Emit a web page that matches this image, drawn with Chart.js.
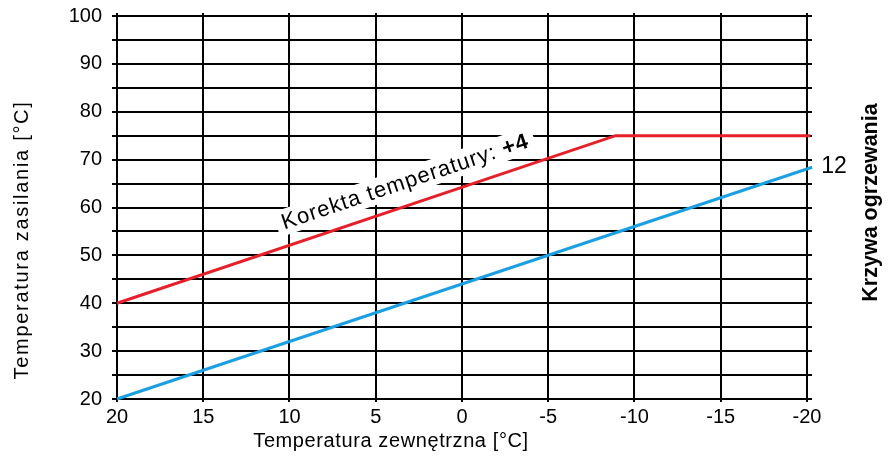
<!DOCTYPE html>
<html>
<head>
<meta charset="utf-8">
<script src="https://cdn.jsdelivr.net/npm/chart.js@4/dist/chart.umd.min.js"></script>
<style>
  html, body { margin: 0; padding: 0; background: #fff; }
  #wrap { width: 894px; height: 457px; }
</style>
</head>
<body>
<div id="wrap"><canvas id="heatChart" width="894" height="457"></canvas></div>
<script>
// --- DATA ---
const xTicks = [20, 15, 10, 5, 0, -5, -10, -15, -20];
const yTicks = [20, 30, 40, 50, 60, 70, 80, 90, 100];

// heating curve 12 (blue)
const curveOutdoor = [20, -20.3];
const curveSupply = [20, 68.4];

// curve 12 with correction +4 (red), capped at 75
const correctedOutdoor = [20, -8.9, -20.2];
const correctedSupply = [40, 75, 75];

const curveLabel = '12';
const xTitle = 'Temperatura zewnętrzna [°C]';
const yTitle = 'Temperatura zasilania [°C]';
const rightTitle = 'Krzywa ogrzewania';
const noteText = 'Korekta temperatury: ';
const noteValue = '+4';

const FONT = '"Liberation Sans", Arial, sans-serif';

function toPoints(xs, ys) {
    return xs.map((x, i) => ({ x: x, y: ys[i] }));
}

// --- CUSTOM TEXT / ANNOTATION PLUGIN ---
const notePlugin = {
    id: 'notes',
    noteGeom(chart) {
        const xs = chart.scales.x, ys = chart.scales.y;
        const p0x = xs.getPixelForValue(correctedOutdoor[0]), p0y = ys.getPixelForValue(correctedSupply[0]);
        const p1x = xs.getPixelForValue(correctedOutdoor[1]), p1y = ys.getPixelForValue(correctedSupply[1]);
        const angle = Math.atan2(p1y - p0y, p1x - p0x);
        // anchor: baseline start of the note, just above the red line
        const ax = xs.getPixelForValue(10.3), ay = ys.getPixelForValue(55.4);
        return { angle, ax, ay };
    },
    noteWidths(ctx) {
        ctx.font = '22px ' + FONT;
        ctx.letterSpacing = '1px';
        const w1 = ctx.measureText(noteText).width;
        ctx.font = 'bold 22px ' + FONT;
        const w2 = ctx.measureText(noteValue).width;
        return { w1, w2 };
    },
    beforeDatasetsDraw(chart) {
        const ctx = chart.ctx;
        const g = this.noteGeom(chart);
        ctx.save();
        ctx.translate(g.ax, g.ay);
        ctx.rotate(g.angle);
        const w = this.noteWidths(ctx);
        ctx.fillStyle = '#fff';
        ctx.fillRect(-6, -20, w.w1 + w.w2 + 12, 26);
        ctx.restore();
    },
    afterDatasetsDraw(chart) {
        const ctx = chart.ctx;
        const xs = chart.scales.x, ys = chart.scales.y;
        const g = this.noteGeom(chart);

        ctx.save();
        ctx.fillStyle = '#000';
        ctx.textBaseline = 'alphabetic';
        ctx.translate(g.ax, g.ay);
        ctx.rotate(g.angle);
        const w = this.noteWidths(ctx);
        ctx.font = '22px ' + FONT;
        ctx.fillText(noteText, 0, 0);
        ctx.font = 'bold 22px ' + FONT;
        ctx.fillText(noteValue, w.w1, 0);
        ctx.restore();

        // curve number at the end of the blue line
        ctx.save();
        ctx.fillStyle = '#000';
        ctx.font = '23px ' + FONT;
        ctx.textBaseline = 'middle';
        ctx.textAlign = 'left';
        ctx.fillText(curveLabel, xs.getPixelForValue(curveOutdoor[1]) + 9, ys.getPixelForValue(curveSupply[1]) - 1);
        ctx.restore();

        // x title
        ctx.save();
        ctx.fillStyle = '#000';
        ctx.font = '20px ' + FONT;
        ctx.letterSpacing = '0.6px';
        ctx.textAlign = 'center';
        ctx.textBaseline = 'alphabetic';
        ctx.fillText(xTitle, 391, 447);
        ctx.restore();

        // y title
        ctx.save();
        ctx.fillStyle = '#000';
        ctx.font = '20px ' + FONT;
        ctx.letterSpacing = '1.7px';
        ctx.translate(27.5, 240);
        ctx.rotate(-Math.PI / 2);
        ctx.textAlign = 'center';
        ctx.textBaseline = 'alphabetic';
        ctx.fillText(yTitle, 0, 0);
        ctx.restore();

        // right title
        ctx.save();
        ctx.fillStyle = '#000';
        ctx.font = 'bold 21.5px ' + FONT;
        ctx.translate(877, 202.5);
        ctx.rotate(-Math.PI / 2);
        ctx.textAlign = 'center';
        ctx.textBaseline = 'alphabetic';
        ctx.fillText(rightTitle, 0, 0);
        ctx.restore();
    }
};

function keepFives(scale) {
    scale.ticks = scale.ticks.filter(t => Math.abs(Math.round(t.value / 5) * 5 - t.value) < 1e-6);
}

// --- CHART ---
const ctx = document.getElementById('heatChart').getContext('2d');
new Chart(ctx, {
    type: 'scatter',
    data: {
        datasets: [
            {
                label: 'Krzywa 12',
                data: toPoints(curveOutdoor, curveSupply),
                showLine: true,
                borderColor: '#1a9fe0',
                borderWidth: 3,
                pointRadius: 0,
                clip: false
            },
            {
                label: 'Korekta +4',
                data: toPoints(correctedOutdoor, correctedSupply),
                showLine: true,
                borderColor: '#e6202a',
                borderWidth: 3,
                pointRadius: 0,
                clip: false
            }
        ]
    },
    options: {
        responsive: false,
        animation: false,
        layout: { padding: { top: 13, right: 82, bottom: 0, left: 0 } },
        plugins: {
            legend: { display: false },
            tooltip: { enabled: false }
        },
        scales: {
            x: {
                type: 'linear',
                reverse: true,
                min: -20.29,
                max: 20,
                afterBuildTicks: keepFives,
                afterFit: s => { s.height = 58; s.paddingLeft = 0; s.paddingRight = 0; },
                border: { display: false },
                grid: { color: '#000', lineWidth: 2, tickLength: 3, tickColor: '#000' },
                ticks: {
                    stepSize: 5,
                    includeBounds: false,
                    autoSkip: false,
                    maxRotation: 0,
                    padding: 3,
                    color: '#000',
                    font: { family: FONT, size: 20 },
                    callback: v => xTicks.includes(v) ? String(v) : ''
                }
            },
            y: {
                type: 'linear',
                min: 20,
                max: 100.63,
                afterBuildTicks: keepFives,
                afterFit: s => { s.width = 117; s.paddingTop = 0; s.paddingBottom = 0; },
                border: { display: false },
                grid: { color: '#000', lineWidth: 2, tickLength: 5, tickColor: '#000' },
                ticks: {
                    stepSize: 5,
                    includeBounds: false,
                    autoSkip: false,
                    padding: 10,
                    color: '#000',
                    font: { family: FONT, size: 20 },
                    callback: v => yTicks.includes(v) ? String(v) : ''
                }
            }
        }
    },
    plugins: [notePlugin]
});
</script>
</body>
</html>
